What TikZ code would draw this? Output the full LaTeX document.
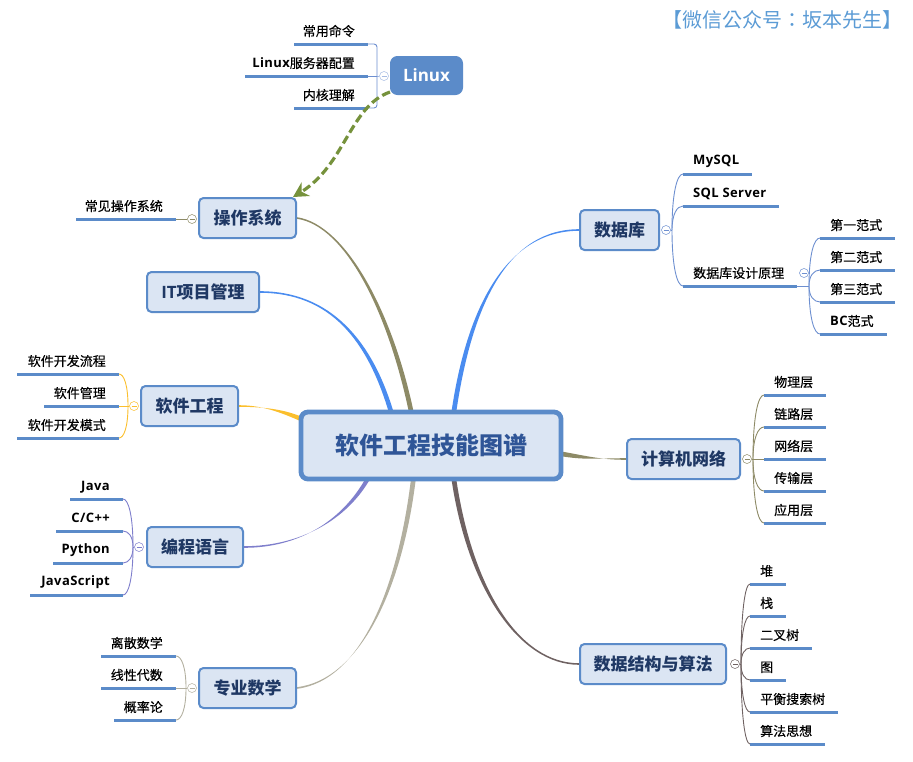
\documentclass[tikz,border=0pt]{standalone}
\usepackage{fontspec}
\usetikzlibrary{calc,arrows.meta}
\setmainfont{Noto Sans CJK SC}
\newfontfamily\cjk{Noto Sans CJK SC}
\newfontfamily\cjktc{Noto Sans CJK TC}
\newfontfamily\cjkleaf{Noto Sans CJK SC}[FakeBold=0.45]
\newfontfamily\lat{Open Sans}
\pgfdeclarelayer{under}
\pgfsetlayers{under,main}
\definecolor{nodefill}{HTML}{DBE5F3}
\definecolor{nodeline}{HTML}{5B8BC9}
\definecolor{darktxt}{HTML}{1F3864}
\definecolor{roottxt}{HTML}{2F5597}
\definecolor{cOS}{HTML}{8D8A66}
\definecolor{cBlue}{HTML}{4A8CF0}
\definecolor{cOrange}{HTML}{FBBF2D}
\definecolor{cPurple}{HTML}{7F7FCC}
\definecolor{cTan}{HTML}{B3B0A0}
\definecolor{cDark}{HTML}{6F6262}
\definecolor{cGreen}{HTML}{76923C}
\definecolor{cLinux}{HTML}{6D8FD0}
\definecolor{cBlueTitle}{HTML}{5B9BD5}
\newcommand\Lt[1]{{\lat\bfseries\addfontfeature{LetterSpace=3}#1}}
\tikzset{
  topic/.style={draw=nodeline,fill=nodefill,line width=2pt,rounded corners=4.5pt,
    text=darktxt,font=\cjk\fontsize{17}{17}\selectfont\bfseries,inner sep=0pt,minimum height=40pt},
  rootnode/.style={draw=nodeline,fill=nodefill,line width=4.8pt,rounded corners=7pt,
    text=roottxt,font=\cjk\fontsize{24}{24}\selectfont\bfseries,inner sep=0pt,minimum width=260pt,minimum height=67pt},
  linuxnode/.style={fill=nodeline,draw=nodeline,line width=1pt,rounded corners=7pt,text=white,
    font=\lat\fontsize{17}{17}\selectfont\bfseries,inner sep=0pt,minimum width=72pt,minimum height=38pt},
  leaf/.style={text=black,font=\cjkleaf\fontsize{13}{13}\selectfont,inner sep=0pt},
  barline/.style={draw=nodeline,line width=3pt},
  fold/.style={circle,draw=#1,fill=white,line width=.5pt,minimum size=9pt,inner sep=0pt,
     path picture={\draw[#1,line width=.5pt] (-2.5,0)--(2.5,0);}},
  twig/.style={draw=#1,line width=.9pt},
  relation/.style={draw=cGreen,line width=3.2pt,dash pattern=on 8.5pt off 4pt,
    -{Stealth[length=15pt,width=16pt,fill=cGreen]}},
  titletext/.style={text=cBlueTitle,font=\cjktc\fontsize{20}{20}\selectfont,inner sep=0pt}
}
% tapered branch: colour, from, c1, c2, to, half-width vector at the far end
\newcommand\taper[6]{\fill[#1] ($(#2)+(0,-.8)$) .. controls ($(#3)+(0,-.8)$) and ($(#4)+(#6)$) .. ($(#5)+(#6)$) -- ($(#5)-(#6)$) .. controls ($(#4)-(#6)$) and ($(#3)+(0,.8)$) .. ($(#2)+(0,.8)$) -- cycle;}
% leaf to the right: name, bar x1, bar x2, bar y, text
\newcommand\rleaf[5]{\coordinate (#1a) at (#2,#4);\coordinate (#1b) at (#3,#4);
  \draw[barline] (#1a) -- (#1b);
  \node[leaf,anchor=west] (#1) at (#2+10,#4-13) {\vphantom{件}#5};}
% leaf to the left: name, bar x1, bar x2, bar y, text
\newcommand\lleaf[5]{\coordinate (#1a) at (#2,#4);\coordinate (#1b) at (#3,#4);
  \draw[barline] (#1a) -- (#1b);
  \node[leaf,anchor=east] (#1) at (#3-13,#4-13) {\vphantom{件}#5};}
% bracket arm: colour, spine point, bar end
\newcommand\arm[3]{\draw[twig=#1] (#2) .. controls ($(#2)!0.65!(#2 |- #3)$) and ($(#2 |- #3)!0.45!(#3)$) .. (#3);}
\begin{document}
\begin{tikzpicture}[x=1pt,y=-1pt]
\useasboundingbox (0,0) rectangle (913,761);

\node[titletext,anchor=west] (wx) at (662,20) {【微信公众号：坂本先生】};

% topics
\node[topic,minimum width=97pt] (os) at (247.5,218) {操作系统};
\node[topic,minimum width=112pt] (it) at (203,292) {{\lat\bfseries IT}项目管理};
\node[topic,minimum width=97pt] (se) at (189.5,406) {软件工程};
\node[topic,minimum width=96pt] (pl) at (195,547) {编程语言};
\node[topic,minimum width=97pt] (ma) at (247.5,688) {专业数学};
\node[topic,minimum width=79pt] (db) at (619.5,230) {数据库};
\node[topic,minimum width=113pt] (net) at (683.5,459) {计算机网络};
\node[topic,minimum width=146pt] (ds) at (653,664) {数据结构与算法};
\node[rootnode] (root) at (431,445.5) {软件工程技能图谱};
\node[linuxnode] (linux) at (426.5,75.5) {Linux};

% ends of the branches on the root box
\coordinate (rOS) at ($(root.north west)+(113,4)$);
\coordinate (rIT) at ($(root.north west)+(93,4)$);
\coordinate (rSE) at ($(root.north west)+(4,10)$);
\coordinate (rPL) at ($(root.south west)+(70,-4)$);
\coordinate (rMA) at ($(root.south west)+(115,-4)$);
\coordinate (rDB) at ($(root.north west)+(155,4)$);
\coordinate (rNET) at ($(root.east)+(-4,8)$);
\coordinate (rDS) at ($(root.south west)+(155,-4)$);

\begin{pgfonlayer}{under}
\taper{cOS}{os.east}{345,225}{390,310}{rOS}{2.4,0}
\taper{cBlue}{it.east}{330,292}{370,340}{rIT}{2.4,0}
\taper{cOrange}{se.east}{265,406}{285,412}{rSE}{0,2.4}
\taper{cPurple}{pl.east}{300,547}{345,520}{rPL}{2.4,0}
\taper{cTan}{ma.east}{360,680}{400,590}{rMA}{2.4,0}
\taper{cBlue}{db.west}{510,230}{470,300}{rDB}{2.4,0}
\taper{cOS}{net.west}{600,459}{585,458}{rNET}{0,2.4}
\taper{cDark}{ds.west}{520,664}{470,590}{rDS}{2.4,0}
\end{pgfonlayer}

% Linux
\lleaf{la}{294}{368}{44}{常用命令}
\lleaf{lb}{245}{368}{76}{\Lt{Linux}服务器配置}
\lleaf{lc}{294}{368}{108}{内核理解}
\coordinate (lspine) at (377,76);
\node[fold=cLinux!60] (lfold) at (384,76) {};
\draw[twig=cLinux] (lbb) -- (lspine);
\draw[twig=cLinux!60] (lspine) -- (lfold);
\draw[twig=cLinux,rounded corners=3pt] (lab) -| (lspine) |- (lcb);

% Linux to operating system
\coordinate (lstart) at ($(linux.south west)+(0,-3)$);
\coordinate (lend) at ($(os.north east)+(-4,0)$);
\draw[relation] (lstart) .. controls (350,106) and (345,165) .. (lend);

% operating system
\lleaf{oa}{76}{176}{219}{常见操作系统}
\node[fold=cOS] (ofold) at (192,219) {};
\draw[twig=cOS] (oab) -- (ofold);

% software engineering
\lleaf{sa}{17}{119}{374}{软件开发流程}
\lleaf{sb}{44}{119}{406}{软件管理}
\lleaf{sc}{17}{119}{438}{软件开发模式}
\coordinate (sspine) at (128,406);
\node[fold=cOrange] (sfold) at (134,406) {};
\draw[twig=cOrange] (sbb) -- (sfold);
\arm{cOrange}{sspine}{sab}
\arm{cOrange}{sspine}{scb}

% programming languages
\lleaf{pa}{70}{123}{499}{\Lt{Java}}
\lleaf{pb}{56}{123}{531}{\Lt{C/C++}}
\lleaf{pc}{53}{123}{563}{\Lt{Python}}
\lleaf{pd}{30}{123}{595}{\Lt{JavaScript}}
\coordinate (pspine) at (133,547);
\node[fold=cPurple] (pfold) at (139,547) {};
\draw[twig=cPurple] (pspine) -- (pfold);
\arm{cPurple}{pspine}{pab}
\arm{cPurple}{pspine}{pbb}
\arm{cPurple}{pspine}{pcb}
\arm{cPurple}{pspine}{pdb}

% mathematics
\lleaf{ma1}{101}{176}{656}{离散数学}
\lleaf{ma2}{101}{176}{688}{线性代数}
\lleaf{ma3}{114}{176}{720}{概率论}
\coordinate (mspine) at (186,688);
\node[fold=cTan] (mfold) at (192,688) {};
\draw[twig=cTan] (ma2b) -- (mfold);
\arm{cTan}{mspine}{ma1b}
\arm{cTan}{mspine}{ma3b}

% database
\rleaf{da}{683}{752}{174}{\Lt{MySQL}}
\rleaf{dbb}{683}{779}{206}{\Lt{SQL Server}}
\rleaf{dc}{683}{797}{286}{数据库设计原理}
\coordinate (dspine) at (672,230);
\node[fold=cLinux] (dfold) at (666,230) {};
\draw[twig=cLinux] (dfold) -- (dspine);
\arm{cLinux}{dspine}{daa}
\arm{cLinux}{dspine}{dbba}
\arm{cLinux}{dspine}{dca}

% normal forms
\rleaf{fa}{820}{895}{238}{第一范式}
\rleaf{fb}{820}{895}{270}{第二范式}
\rleaf{fc}{820}{895}{302}{第三范式}
\rleaf{fd}{820}{887}{334}{\Lt{BC}范式}
\coordinate (fspine) at (809,286);
\node[fold=cLinux] (ffold) at (804,273) {};
\draw[twig=cLinux] (dcb) -- (fspine);
\arm{cLinux}{fspine}{faa}
\arm{cLinux}{fspine}{fba}
\arm{cLinux}{fspine}{fca}
\arm{cLinux}{fspine}{fda}

% network
\rleaf{na}{764}{826}{395}{物理层}
\rleaf{nb}{764}{826}{427}{链路层}
\rleaf{nc}{764}{826}{459}{网络层}
\rleaf{nd}{764}{826}{491}{传输层}
\rleaf{ne}{764}{826}{523}{应用层}
\coordinate (nspine) at (753,459);
\node[fold=cOS] (nfold) at (747,459) {};
\draw[twig=cOS] (nfold) -- (nca);
\arm{cOS}{nspine}{naa}
\arm{cOS}{nspine}{nba}
\arm{cOS}{nspine}{nda}
\arm{cOS}{nspine}{nea}

% data structures
\rleaf{ta}{750}{786}{584}{堆}
\rleaf{tb}{750}{786}{616}{栈}
\rleaf{tc}{750}{812}{648}{二叉树}
\rleaf{td}{750}{786}{680}{图}
\rleaf{te}{750}{838}{712}{平衡搜索树}
\rleaf{tf}{750}{825}{744}{算法思想}
\coordinate (tspine) at (741,664);
\node[fold=cDark] (tfold) at (735,664) {};
\draw[twig=cDark] (tfold) -- (tspine);
\arm{cDark}{tspine}{taa}
\arm{cDark}{tspine}{tba}
\arm{cDark}{tspine}{tca}
\arm{cDark}{tspine}{tda}
\arm{cDark}{tspine}{tea}
\arm{cDark}{tspine}{tfa}
\end{tikzpicture}
\end{document}
